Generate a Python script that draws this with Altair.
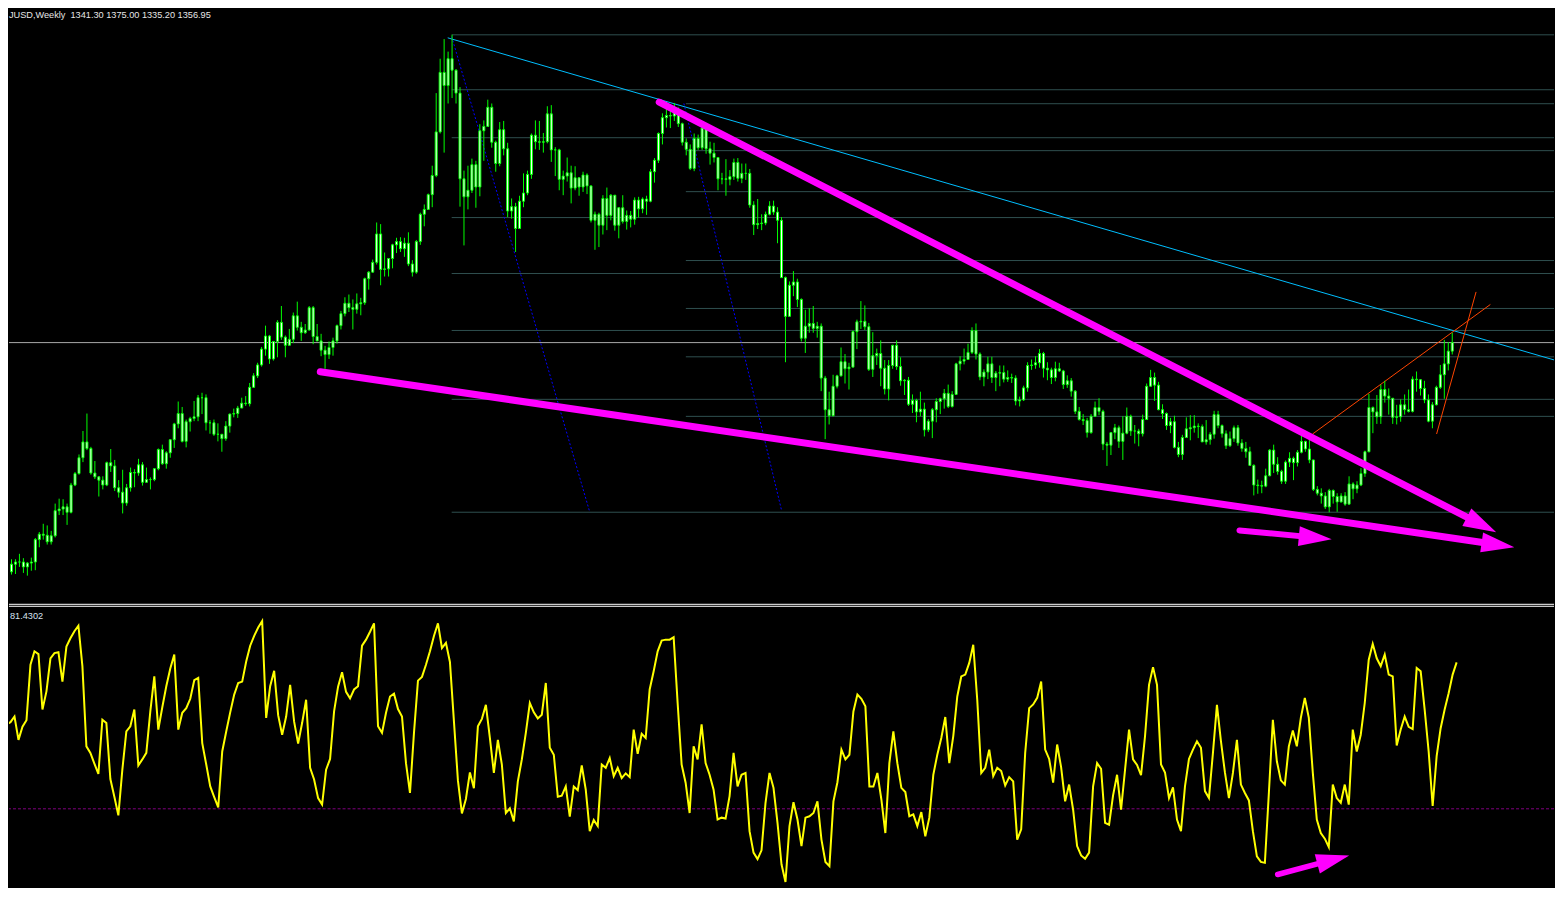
import math
import altair as alt
import pandas as pd

# ---------------- data: weekly gold candles, Jul 13 2009 .. Jul 4 2016 (bar index 0..364)
first_open = 912.0
closes = [
    937, 951, 955, 955, 946, 953, 955, 996, 1006, 1004, 992, 1003, 1049, 1052, 1056, 1046, 1096, 1117, 1146, 1175, 1163, 1118, 1111, 1105, 1096,
    1137, 1131, 1091, 1083, 1063, 1091, 1119, 1118, 1133, 1101, 1106, 1106, 1126, 1161, 1135, 1155, 1179, 1208, 1227, 1176, 1212, 1218, 1221, 1256, 1256, 1210, 1210, 1189, 1189, 1181, 1204, 1226, 1227, 1237, 1246, 1245, 1275, 1296, 1316, 1345, 1369, 1327, 1359, 1394, 1367, 1352, 1363, 1406, 1385, 1375, 1380, 1421,
    1368, 1360, 1343, 1335, 1348, 1360, 1388, 1410, 1429, 1421, 1418, 1428, 1430, 1474, 1486, 1504, 1556, 1491, 1492, 1511, 1536, 1542, 1529, 1539, 1501, 1486, 1542, 1592, 1601, 1628, 1663, 1743, 1852, 1828, 1877, 1856, 1814, 1657, 1624, 1636, 1683, 1642, 1745, 1753, 1788, 1724, 1685, 1747, 1712, 1598, 1606, 1566,
    1616, 1631, 1665, 1737, 1725, 1724, 1725, 1776, 1710, 1710, 1656, 1662, 1668, 1640, 1659, 1642, 1664, 1644, 1581, 1592, 1572, 1621, 1590, 1627, 1572, 1604, 1579, 1590, 1583, 1618, 1602, 1620, 1616, 1670, 1691, 1740, 1769, 1773, 1772, 1780, 1758, 1724, 1711, 1676, 1731, 1714, 1750, 1712, 1704, 1696, 1657, 1657, 1656,
    1661, 1687, 1658, 1667, 1667, 1609, 1573, 1575, 1576, 1592, 1607, 1596, 1581, 1476, 1405, 1462, 1468, 1436, 1365, 1387, 1392, 1383, 1387, 1292, 1234, 1223, 1277, 1296, 1322, 1309, 1312, 1377, 1395, 1396, 1386, 1308, 1333, 1337, 1310, 1272, 1315, 1352, 1313, 1287, 1288, 1244, 1251, 1230, 1235, 1197, 1213, 1234,
    1249, 1254, 1264, 1240, 1262, 1318, 1323, 1326, 1339, 1379, 1336, 1294, 1303, 1318, 1293, 1301, 1302, 1290, 1293, 1292, 1250, 1252, 1274, 1315, 1316, 1320, 1337, 1310, 1307, 1293, 1309, 1305, 1280, 1287, 1268, 1231, 1216, 1214, 1192, 1222, 1238, 1231, 1171, 1169, 1192, 1201, 1176, 1191, 1222, 1195, 1195, 1190,
    1216, 1277, 1293, 1279, 1234, 1227, 1205, 1212, 1165, 1152, 1183, 1199, 1201, 1204, 1203, 1175, 1179, 1189, 1225, 1205, 1190, 1168, 1181, 1201, 1173, 1163, 1157, 1132, 1096, 1095, 1094, 1113, 1160, 1134, 1121, 1103, 1138, 1145, 1137, 1156, 1176, 1162, 1142, 1088, 1081, 1076, 1056, 1086, 1075, 1065, 1076, 1061,
    1098, 1089, 1096, 1117, 1157, 1238, 1230, 1221, 1271, 1259, 1255, 1220, 1221, 1243, 1234, 1231, 1290, 1289, 1273, 1252, 1213, 1243, 1275, 1298, 1318, 1341.3, 1356.95,
]
highs = [
    942, 960, 960, 970, 962, 955, 963, 999, 1010, 1025, 1022, 1012, 1062, 1071, 1070, 1062, 1100, 1120, 1152, 1195, 1227, 1166, 1140, 1112, 1112,
    1139, 1162, 1142, 1105, 1124, 1098, 1128, 1125, 1144, 1138, 1128, 1110, 1127, 1163, 1170, 1158, 1180, 1210, 1249, 1239, 1216, 1221, 1250, 1261, 1265, 1262, 1215, 1216, 1209, 1189, 1213, 1227, 1236, 1241, 1256, 1259, 1283, 1301, 1320, 1349, 1388, 1371, 1360, 1398, 1424, 1370, 1382, 1412, 1432, 1395, 1391, 1424,
    1424, 1391, 1373, 1351, 1359, 1366, 1390, 1415, 1440, 1445, 1436, 1447, 1439, 1476, 1488, 1509, 1577, 1574, 1522, 1512, 1538, 1549, 1550, 1549, 1559, 1508, 1545, 1595, 1610, 1630, 1681, 1814, 1877, 1913, 1890, 1921, 1858, 1825, 1672, 1681, 1694, 1690, 1757, 1764, 1802, 1795, 1727, 1761, 1763, 1723, 1621, 1613,
    1626, 1667, 1672, 1740, 1764, 1763, 1741, 1790, 1792, 1715, 1712, 1672, 1696, 1681, 1680, 1660, 1670, 1667, 1645, 1597, 1595, 1627, 1641, 1629, 1627, 1605, 1627, 1599, 1598, 1623, 1624, 1623, 1626, 1675, 1695, 1742, 1777, 1788, 1781, 1796, 1788, 1760, 1731, 1720, 1740, 1738, 1755, 1754, 1725, 1723, 1697, 1668, 1693,
    1673, 1694, 1695, 1685, 1685, 1675, 1616, 1620, 1592, 1597, 1616, 1617, 1605, 1587, 1478, 1469, 1488, 1474, 1438, 1417, 1420, 1424, 1395, 1392, 1296, 1267, 1298, 1298, 1348, 1336, 1320, 1379, 1399, 1433, 1425, 1393, 1376, 1346, 1361, 1325, 1325, 1353, 1361, 1330, 1290, 1294, 1262, 1254, 1267, 1247, 1217, 1237,
    1255, 1256, 1272, 1280, 1268, 1320, 1332, 1346, 1355, 1385, 1392, 1339, 1308, 1331, 1331, 1305, 1315, 1315, 1306, 1300, 1297, 1258, 1278, 1321, 1326, 1332, 1345, 1340, 1321, 1311, 1322, 1320, 1307, 1297, 1292, 1270, 1239, 1226, 1219, 1226, 1249, 1255, 1234, 1175, 1193, 1208, 1205, 1222, 1238, 1225, 1206, 1199,
    1225, 1282, 1307, 1302, 1285, 1244, 1229, 1219, 1223, 1175, 1188, 1220, 1224, 1224, 1209, 1207, 1215, 1193, 1232, 1232, 1207, 1196, 1194, 1205, 1206, 1180, 1175, 1166, 1134, 1106, 1104, 1126, 1162, 1170, 1147, 1124, 1141, 1156, 1148, 1160, 1191, 1177, 1180, 1142, 1094, 1090, 1083, 1089, 1088, 1081, 1081, 1083,
    1112, 1101, 1103, 1127, 1159, 1263, 1240, 1261, 1280, 1287, 1273, 1255, 1243, 1253, 1262, 1271, 1295, 1304, 1290, 1287, 1262, 1248, 1278, 1316, 1362, 1358, 1375,
]
lows = [
    908, 932, 933, 946, 935, 930, 939, 940, 982, 996, 987, 987, 1000, 1041, 1041, 1023, 1044, 1094, 1115, 1138, 1160, 1115, 1107, 1075, 1088,
    1094, 1120, 1085, 1073, 1044, 1058, 1084, 1092, 1113, 1095, 1100, 1088, 1103, 1123, 1133, 1126, 1146, 1164, 1200, 1174, 1165, 1194, 1213, 1213, 1226, 1196, 1190, 1186, 1176, 1157, 1177, 1192, 1220, 1219, 1239, 1241, 1240, 1274, 1292, 1313, 1333, 1318, 1324, 1330, 1362, 1330, 1352, 1356, 1379, 1360, 1373, 1379,
    1354, 1360, 1332, 1309, 1327, 1333, 1355, 1381, 1405, 1413, 1381, 1410, 1407, 1426, 1454, 1485, 1500, 1462, 1478, 1478, 1493, 1521, 1523, 1514, 1497, 1478, 1483, 1536, 1570, 1600, 1605, 1660, 1740, 1705, 1795, 1805, 1795, 1606, 1535, 1601, 1631, 1604, 1625, 1690, 1752, 1714, 1670, 1680, 1700, 1587, 1584, 1523,
    1565, 1605, 1627, 1657, 1711, 1710, 1705, 1722, 1688, 1662, 1636, 1627, 1652, 1612, 1636, 1626, 1633, 1629, 1577, 1527, 1532, 1555, 1563, 1581, 1562, 1548, 1575, 1564, 1568, 1573, 1586, 1594, 1591, 1614, 1650, 1686, 1720, 1751, 1750, 1763, 1752, 1718, 1700, 1673, 1671, 1710, 1710, 1703, 1683, 1687, 1636, 1647, 1626,
    1645, 1655, 1652, 1649, 1655, 1604, 1554, 1565, 1563, 1572, 1590, 1591, 1539, 1476, 1321, 1405, 1442, 1422, 1359, 1338, 1375, 1375, 1366, 1268, 1180, 1207, 1222, 1273, 1295, 1282, 1271, 1312, 1345, 1382, 1380, 1305, 1294, 1316, 1277, 1262, 1251, 1309, 1307, 1278, 1261, 1241, 1228, 1211, 1222, 1185, 1193, 1182,
    1211, 1226, 1236, 1237, 1238, 1261, 1306, 1317, 1325, 1336, 1326, 1288, 1277, 1290, 1283, 1268, 1277, 1284, 1285, 1283, 1242, 1240, 1250, 1267, 1307, 1309, 1311, 1293, 1288, 1281, 1286, 1303, 1272, 1274, 1258, 1226, 1214, 1206, 1183, 1190, 1221, 1224, 1160, 1131, 1151, 1180, 1164, 1142, 1189, 1186, 1172, 1167,
    1185, 1216, 1276, 1250, 1233, 1217, 1197, 1191, 1163, 1147, 1142, 1183, 1178, 1192, 1182, 1175, 1170, 1170, 1181, 1200, 1183, 1162, 1166, 1175, 1168, 1157, 1146, 1131, 1077, 1080, 1081, 1092, 1112, 1118, 1115, 1098, 1098, 1129, 1105, 1130, 1154, 1157, 1136, 1085, 1077, 1062, 1052, 1046, 1062, 1047, 1064, 1058,
    1060, 1070, 1081, 1094, 1111, 1156, 1191, 1208, 1208, 1247, 1225, 1208, 1207, 1212, 1225, 1229, 1229, 1267, 1260, 1246, 1211, 1200, 1242, 1272, 1254, 1306, 1335.2,
]
# oscillator in the lower window, one value per bar
osc = [
    58.7, 68.1, 68.6, 69.8, 64.8, 67.6, 69.0, 80.9, 83.8, 83.2,
    71.3, 75.2, 82.3, 83.4, 83.6, 77.3, 84.8, 86.6, 88.1, 89.3,
    80.6, 63.4, 62.0, 59.7, 57.5, 69.1, 68.4, 56.4, 52.6, 48.6,
    58.4, 66.6, 67.7, 71.3, 59.3, 60.6, 62.0, 70.9, 78.4, 67.0,
    71.8, 76.3, 80.1, 83.1, 67.0, 70.6, 71.6, 73.6, 77.6, 78.1,
    64.1, 59.5, 54.8, 52.5, 50.3, 62.3, 66.6, 70.7, 74.5, 77.0,
    77.3, 81.6, 85.0, 87.1, 88.9, 90.3, 69.5, 76.3, 79.6, 70.1,
    65.9, 69.8, 76.6, 68.7, 64.0, 68.4, 73.4, 58.8, 56.3, 52.3,
    50.9, 58.4, 60.7, 70.9, 76.2, 79.3, 75.1, 73.7, 75.6, 76.3,
    85.0, 86.3, 88.0, 89.8, 67.7, 66.3, 70.6, 74.1, 74.7, 71.4,
    69.8, 59.8, 53.4, 66.3, 77.5, 78.3, 80.9, 83.8, 87.1, 89.8,
    84.5, 85.6, 81.5, 68.8, 56.1, 49.0, 52.1, 57.8, 54.4, 67.7,
    69.3, 72.3, 65.2, 57.7, 64.8, 59.5, 49.1, 50.1, 47.3, 55.9,
    60.6, 66.3, 72.7, 70.7, 69.4, 70.2, 77.0, 63.1, 61.6, 52.6,
    52.8, 54.8, 48.3, 54.8, 54.0, 59.3, 54.1, 45.2, 47.6, 46.3,
    59.5, 58.8, 60.9, 57.0, 58.8, 56.6, 57.6, 56.8, 67.0, 61.8,
    66.1, 65.2, 75.6, 79.5, 83.8, 86.1, 86.3, 86.3, 86.8, 72.7,
    59.5, 55.6, 49.1, 63.4, 60.6, 68.1, 59.8, 57.3, 54.1, 47.7,
    48.1, 47.9, 52.7, 62.0, 54.8, 57.3, 57.7, 45.2, 40.6, 39.2,
    41.1, 51.3, 57.7, 54.5, 47.0, 38.1, 34.3, 46.3, 51.4, 47.7,
    42.0, 48.1, 48.4, 49.1, 51.6, 43.4, 38.6, 37.7, 51.6, 55.7,
    62.7, 60.6, 61.6, 70.9, 74.5, 73.6, 72.0, 54.8, 54.8, 57.7,
    52.0, 44.8, 59.8, 66.6, 59.8, 54.5, 53.6, 48.4, 48.8, 46.3,
    49.3, 44.1, 48.1, 57.3, 61.6, 65.2, 69.7, 59.8, 65.6, 74.1,
    78.4, 78.8, 81.3, 85.2, 73.4, 57.7, 58.8, 62.7, 57.0, 58.8,
    58.1, 55.0, 56.8, 55.9, 43.4, 45.6, 62.0, 71.6, 72.4, 73.8,
    77.3, 62.7, 60.7, 55.6, 63.8, 58.9, 51.6, 55.2, 49.8, 42.0,
    40.0, 39.3, 40.6, 54.8, 59.8, 58.6, 47.0, 46.6, 52.9, 57.3,
    49.8, 58.4, 67.0, 60.6, 59.4, 57.2, 65.6, 76.6, 80.4, 76.6,
    59.5, 57.8, 52.3, 54.6, 47.7, 45.2, 54.8, 60.7, 62.7, 64.5,
    63.1, 53.8, 52.3, 62.0, 72.3, 64.5, 57.8, 52.3, 57.7, 64.8,
    55.2, 53.4, 51.8, 45.2, 39.8, 38.6, 38.4, 53.4, 69.1, 60.2,
    56.1, 55.2, 63.4, 66.8, 63.4, 69.5, 73.8, 69.5, 57.7, 47.7,
    44.8, 43.6, 41.8, 55.2, 52.3, 51.3, 55.2, 50.9, 67.0, 62.3,
    65.9, 72.7, 82.0, 85.4, 82.3, 80.6, 83.1, 78.8, 78.4, 63.6,
    67.0, 69.8, 67.6, 67.1, 80.2, 79.5, 71.3, 62.3, 50.6, 61.3,
    67.3, 71.3, 74.8, 78.8, 81.4302,
]
osc_level = 50

header_symbol = "JUSD,Weekly"
header_ohlc = ["1341.30", "1375.00", "1335.20", "1356.95"]
osc_label = "81.4302"

# drawn objects (bar index, price)
fib_a_from = 111.9
fib_a_prices = [1920.8, 1820.2, 1732.3, 1586.0, 1483.5, 1379.2, 1253.0, 1046.2]
fib_b_from = 170.9
fib_b_prices = [1794.6, 1708.6, 1633.5, 1507.3, 1419.5, 1330.9, 1221.8]
price_line = 1356.95
cyan_trend = [[110.9, 1915.3, 390.4, 1323.6]]
blue_dotted = [[111.9, 1917.7, 146.6, 1048.6], [170.4, 1795.1, 195.05, 1048.6]]
orange_lines = [[328.8, 1189.5, 373.6, 1426.8], [360.05, 1189.5, 370.0, 1449.8]]
wedge_arrows = [[78.8, 1303.5, 379.6, 982.2], [164.2, 1797.5, 375.05, 1009.6]]
short_arrow = [[310.4, 1012.9, 333.6, 996.8]]
osc_arrow = [[319.2, 35.9, 337.1, 40.0]]

# ---------------- layout
W = 1547
H_MAIN = 597
H_OSC = 282
X_DOM = [1.625, 1.625 + W / 4.0]
P_DOM = [876.6, 1968.9]
V_DOM = [33.13, 93.56]
LIME = "#00FF00"
MAGENTA = "#FF00FF"
HEAD = "M1,0L-1,-0.6L-1,0.6Z"

n = len(closes)
assert len(highs) == n and len(lows) == n and len(osc) == n, (len(closes), len(highs), len(lows), len(osc))
opens = [first_open] + closes[:-1]  # weekly bars open at the prior close
candles = pd.DataFrame({"i": list(range(n)), "open": opens, "high": highs, "low": lows, "close": closes})
osc_df = pd.DataFrame({"i": list(range(n)), "v": osc})

xs = alt.Scale(domain=X_DOM, nice=False, zero=False)
ps = alt.Scale(domain=P_DOM, nice=False, zero=False)
vs = alt.Scale(domain=V_DOM, nice=False, zero=False)
PPX = W / (X_DOM[1] - X_DOM[0])


def seg_df(rows):
    return pd.DataFrame(rows, columns=["x", "y", "x2", "y2"])


def seg_layer(rows, yscale, **mark):
    return alt.Chart(seg_df(rows)).mark_rule(clip=True, **mark).encode(
        x=alt.X("x:Q", scale=xs, axis=None),
        y=alt.Y("y:Q", scale=yscale, axis=None),
        x2="x2:Q",
        y2="y2:Q",
    )


def arrow_layers(rows, yscale, ppy, width, head):
    shafts, heads = [], []
    for x0, y0, x1, y1 in rows:
        dx = (x1 - x0) * PPX
        dy = -(y1 - y0) * ppy
        ln = math.hypot(dx, dy)
        ux, uy = dx / ln, dy / ln
        cx = x1 - (head / 2) * ux / PPX
        cy = y1 + (head / 2) * uy / ppy
        shafts.append([x0, y0, cx, cy])
        heads.append({"x": cx, "y": cy, "ang": math.degrees(math.atan2(dy, dx)) % 360})
    shaft = seg_layer(shafts, yscale, color=MAGENTA, strokeWidth=width, strokeCap="round")
    tip = alt.Chart(pd.DataFrame(heads)).mark_point(
        shape=HEAD, filled=True, size=head * head, color=MAGENTA, opacity=1, strokeWidth=0, clip=True
    ).encode(
        x=alt.X("x:Q", scale=xs, axis=None),
        y=alt.Y("y:Q", scale=yscale, axis=None),
        angle=alt.Angle("ang:Q", scale=None),
    )
    return [shaft, tip]


ppy_main = H_MAIN / (P_DOM[1] - P_DOM[0])
ppy_osc = H_OSC / (V_DOM[1] - V_DOM[0])

fib_rows = [[fib_a_from, p, 391.0, p] for p in fib_a_prices] + [[fib_b_from, p, 391.0, p] for p in fib_b_prices]
fib = seg_layer(fib_rows, ps, color="#2F4F4F", strokeWidth=1)
bid = seg_layer([[0.0, price_line, 391.0, price_line]], ps, color="#A9A9A9", strokeWidth=1)
cyan = seg_layer(cyan_trend, ps, color="#00BFFF", strokeWidth=1)
blue = seg_layer(blue_dotted, ps, color="#0000FF", strokeWidth=1, strokeDash=[2, 2])
orange = seg_layer(orange_lines, ps, color="#FF4500", strokeWidth=1)

wicks = alt.Chart(candles).mark_rule(color=LIME, strokeWidth=1, clip=True).encode(
    x=alt.X("i:Q", scale=xs, axis=None),
    y=alt.Y("low:Q", scale=ps, axis=None),
    y2="high:Q",
)
# candle bodies: lime outline, white core
bodies = alt.Chart(candles).mark_bar(size=2, stroke=LIME, strokeWidth=1, fill="#FFFFFF", clip=True).encode(
    x=alt.X("i:Q", scale=xs, axis=None),
    y=alt.Y("open:Q", scale=ps, axis=None),
    y2="close:Q",
)

header = alt.Chart(pd.DataFrame({"t": [header_symbol + "\u00a0\u00a0" + " ".join(header_ohlc)]})).mark_text(
    align="left", baseline="alphabetic", font="Liberation Sans", fontSize=9.2, color="#E6E6E6"
).encode(x=alt.value(0), y=alt.value(9.5), text="t:N")

sep_main = alt.Chart(pd.DataFrame({"k": [0]})).mark_rule(color="#FFFFFF", strokeWidth=1).encode(y=alt.value(596.5))

main_layers = [fib, bid, cyan, blue, orange, wicks, bodies]
main_layers += arrow_layers(wedge_arrows, ps, ppy_main, 7, 33)
main_layers += arrow_layers(short_arrow, ps, ppy_main, 6, 33)
main_layers += [header, sep_main]
main = alt.layer(*main_layers).properties(width=W, height=H_MAIN)

level = alt.Chart(pd.DataFrame({"lvl": [osc_level]})).mark_rule(color="#800080", strokeWidth=1, strokeDash=[3, 2]).encode(
    y=alt.Y("lvl:Q", scale=vs, axis=None)
)
osc_line = alt.Chart(osc_df).mark_line(color="#FFFF00", strokeWidth=2, clip=True).encode(
    x=alt.X("i:Q", scale=xs, axis=None),
    y=alt.Y("v:Q", scale=vs, axis=None),
)
osc_text = alt.Chart(pd.DataFrame({"t": [osc_label]})).mark_text(
    align="left", baseline="alphabetic", font="Liberation Sans", fontSize=9.2, color="#D8E2F0"
).encode(x=alt.value(1), y=alt.value(13), text="t:N")
sep_osc = alt.Chart(pd.DataFrame({"k": [0]})).mark_rule(color="#FFFFFF", strokeWidth=1).encode(y=alt.value(0.5))

lower_layers = [level, osc_line] + arrow_layers(osc_arrow, vs, ppy_osc, 5.5, 33) + [osc_text, sep_osc]
lower = alt.layer(*lower_layers).properties(width=W, height=H_OSC)

chart = (
    alt.vconcat(main, lower, spacing=1, bounds="flush")
    .resolve_scale(x="independent", y="independent")
    .properties(padding=0, background="#000000")
    .configure_view(stroke="transparent", strokeWidth=0)
)

chart.save("out.html", embed_options={"renderer": "svg", "actions": False})
